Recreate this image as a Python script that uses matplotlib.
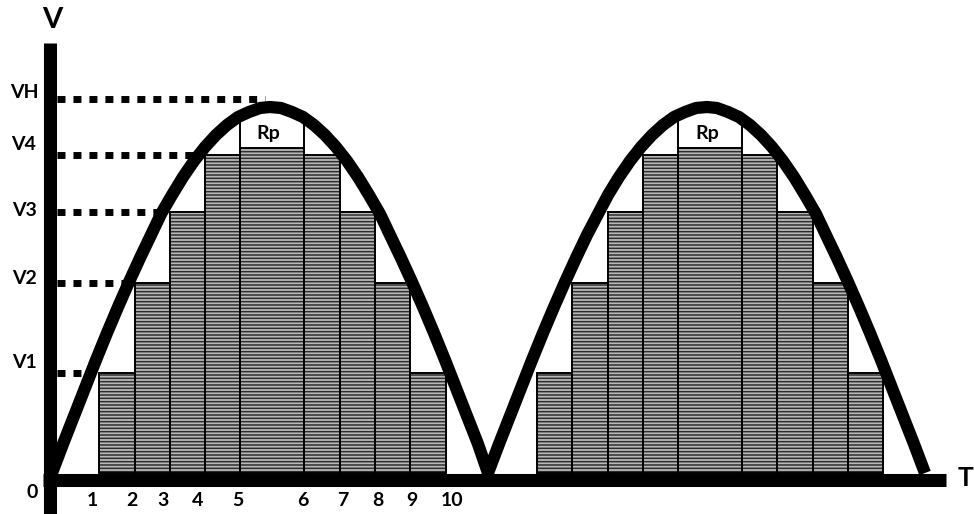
import numpy as np
import matplotlib
matplotlib.use('Agg')
import matplotlib.pyplot as plt

# bar steps under each half wave (t edges, level heights)
left_edges = [99, 135, 170, 205, 240, 304, 340, 375, 410, 446]
right_edges = [537, 572, 608, 643, 678, 742, 777, 813, 848, 883]
step_levels = [100, 190, 261, 318, 325, 318, 261, 190, 100]

# Rp box sides (t) and where they meet the curve
rp_sides = [[240, 304], [678, 742]]
rp_top = 358
rp_label_t = [268, 707]
rp_label_v = 340

# voltage curve (t, v)
curve_t = [52, 63, 74, 85, 96, 107, 118, 129, 140, 151, 161, 172, 183, 194,
           205, 216, 227, 238, 249, 260, 270, 281, 292, 303, 314, 325, 336,
           347, 358, 369, 380, 390, 401, 412, 423, 434, 445, 456, 467, 478,
           488, 499, 510, 521, 532, 543, 554, 565, 576, 587, 598, 608, 619,
           630, 641, 652, 663, 674, 685, 696, 707, 717, 728, 739, 750, 761,
           772, 783, 794, 805, 816, 826, 837, 848, 859, 870, 881, 892, 903,
           914, 925]
curve_v = [0, 29, 57, 85, 113, 140, 166, 191, 215, 238, 259, 278, 296, 312,
           326, 338, 348, 356, 361, 365, 366, 365, 361, 356, 348, 338, 326,
           312, 296, 278, 259, 238, 215, 191, 166, 140, 113, 85, 57, 29,
           0, 29, 57, 85, 113, 140, 166, 191, 215, 238, 259, 278, 296,
           312, 326, 338, 348, 356, 361, 365, 366, 365, 361, 356, 348, 338,
           326, 312, 296, 278, 259, 238, 215, 191, 166, 140, 113, 85, 57,
           29, 0]

# dotted level guides
level_names = ['VH', 'V4', 'V3', 'V2', 'V1']
level_values = [374, 318, 261, 190, 100]
level_ends = [265, 193, 163, 128, 87]
level_label_v = [381, 328, 263, 195, 110]

# time tick labels
tick_labels = ['1', '2', '3', '4', '5', '6', '7', '8', '9', '10']
tick_pos = [92, 132, 163, 198, 238, 303, 343, 378, 412, 452]

font = ['Lato', 'DejaVu Sans']

fig = plt.figure(figsize=(9.74, 5.14), dpi=100)
ax = fig.add_axes([0, 0, 1, 1])
ax.set_xlim(0, 974)
ax.set_ylim(-41, 473)
ax.axis('off')

plt.rcParams['hatch.linewidth'] = 1.1
for edges in (left_edges, right_edges):
    widths = np.diff(edges)
    ax.bar(edges[:-1], step_levels, width=widths, align='edge',
           facecolor='#b8b8b8', edgecolor='#2e2e2e', hatch='-----',
           linewidth=0, zorder=2)
    ax.bar(edges[:-1], step_levels, width=widths, align='edge',
           fill=False, edgecolor='black', linewidth=1.4, zorder=3)

for sides in rp_sides:
    ax.vlines(sides, step_levels[4], rp_top, colors='black', linewidth=1.4, zorder=3)
for t in rp_label_t:
    ax.text(t, rp_label_v, 'Rp', ha='center', va='center', fontsize=14,
            fontweight='bold', family=font, zorder=4)

for v, end in zip(level_values, level_ends):
    ax.plot([57, end], [v, v], color='black', linewidth=5,
            linestyle=(0, (1.15, 1.15)), dash_capstyle='butt', zorder=4)
for name, v in zip(level_names, level_label_v):
    ax.text(24, v, name, ha='center', va='center', fontsize=14,
            fontweight='bold', family=font)

ax.plot(curve_t, curve_v, color='black', linewidth=8.8,
        solid_joinstyle='round', solid_capstyle='butt', zorder=5)

# axes
ax.plot([50, 50], [-41, 430], color='black', linewidth=9.4,
        solid_capstyle='butt', zorder=6)
ax.plot([43, 946], [-6.5, -6.5], color='black', linewidth=9.4,
        solid_capstyle='butt', zorder=6)
ax.text(52, 453, 'V', ha='center', va='center', fontsize=21,
        fontweight='bold', family=font)
ax.text(958, -5, 'T', ha='left', va='center', fontsize=19,
        fontweight='bold', family=font)
ax.text(32, -20, '0', ha='center', va='center', fontsize=14,
        fontweight='bold', family=font)
for lab, t in zip(tick_labels, tick_pos):
    ax.text(t, -27, lab, ha='center', va='center', fontsize=14,
            fontweight='bold', family=font)

fig.savefig('out.png', dpi=100)
